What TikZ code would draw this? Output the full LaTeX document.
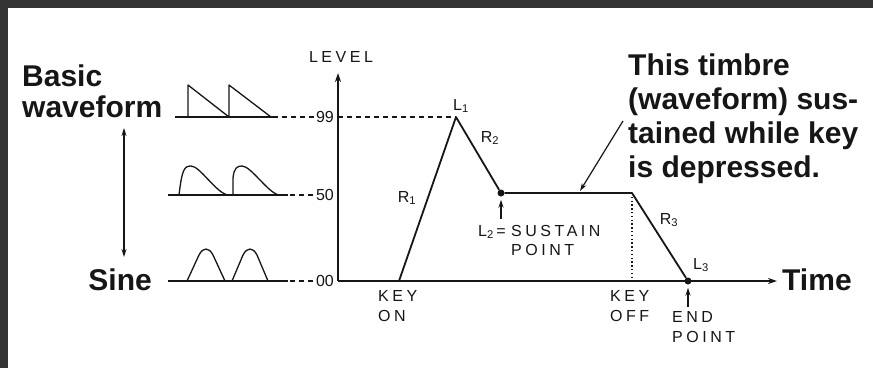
\documentclass[tikz,border=0pt]{standalone}
\usepackage{fontspec}
\setmainfont{Liberation Sans}
\newfontfamily\letterfont[LetterSpace=22]{Liberation Sans}
\usetikzlibrary{arrows.meta}
\definecolor{EGFrame}{HTML}{333333}
\definecolor{EGInk}{HTML}{161616}
\tikzset{
  axis/.style={EGInk,line width=2pt},
  axisarrow/.style={axis,-{Stealth[length=9pt,width=6pt]}},
  env/.style={EGInk,line width=1.8pt,line join=round},
  wave/.style={EGInk,line width=1.3pt,line join=round},
  guide/.style={EGInk,line width=1.2pt,dash pattern=on 5pt off 4pt},
  keyline/.style={EGInk,line width=1.3pt,dash pattern=on 1.3pt off 2.5pt},
  pointer/.style={EGInk,line width=1.2pt,-{Stealth[length=8pt,width=5pt]}},
  bothways/.style={pointer,{Stealth[length=8pt,width=5pt]}-{Stealth[length=8pt,width=5pt]}},
  bigtext/.style={text=EGInk,font=\fontsize{30}{34}\selectfont\bfseries,inner sep=0pt,align=left},
  lettering/.style={text=EGInk,font=\fontsize{16}{20}\selectfont\letterfont,inner sep=0pt,align=left},
  tick/.style={text=EGInk,font=\fontsize{16}{18}\selectfont,inner sep=0pt},
  dot/.style={circle,fill=EGInk,inner sep=0pt,minimum size=7pt},
}
\begin{document}
\begin{tikzpicture}[x=1pt,y=-1pt]
  \useasboundingbox (0,0) rectangle (873,368);
  \fill[EGFrame] (0,0) rectangle (873,368);
  \fill[white] (8,8) rectangle (873,368);

  % axes and envelope points
  \coordinate (origin) at (338,281);
  \coordinate (ytop) at (338,73);
  \coordinate (keyon) at (399,281);
  \coordinate (lone) at (456,117);
  \node[dot] (ltwo) at (501,193) {};
  \coordinate (keyoff) at (632,193);
  \node[dot] (lthree) at (688,281) {};

  \node[lettering,anchor=center] (levellbl) at (341,57) {LEVEL};
  \node[bigtext,anchor=base west] (timelbl) at (782,290) {Time};
  \draw[axisarrow] (origin) -- (ytop);
  \draw[axisarrow] (origin) -- ([xshift=-5pt]origin -| timelbl.west);

  \node[tick,anchor=east] (lvlnn) at (334,117) {99};
  \node[tick,anchor=east] (lvlfifty) at (334,195) {50};
  \node[tick,anchor=east] (lvlzero) at (334,281) {00};
  \draw[guide] (origin |- lone) -- (lone);

  \draw[env] (keyon) -- (lone) -- (ltwo) -- (keyoff) -- (lthree);
  \draw[keyline] (keyoff) -- (keyoff |- origin);

  \node[lettering] (lonelbl) at (461,106) {L\textsubscript{1}};
  \node[lettering] (rtwolbl) at (490,138) {R\textsubscript{2}};
  \node[lettering] (ronelbl) at (407,198) {R\textsubscript{1}};
  \node[lettering] (rthreelbl) at (669,220) {R\textsubscript{3}};
  \node[lettering] (lthreelbl) at (701,265) {L\textsubscript{3}};

  \node[lettering,anchor=north west] (keyonlbl) at (378,290) {KEY\\ON};
  \node[lettering,anchor=north west] (keyofflbl) at (610,290) {KEY\\OFF};
  \node[lettering,anchor=north west] (endlbl) at (672,311) {END\\POINT};
  \node[lettering,anchor=north west,font=\fontsize{16}{19}\selectfont\letterfont] (sustlbl) at (511,225) {SUSTAIN\\POINT};
  \node[lettering,anchor=north east] (ltwolbl) at ([xshift=-5pt]sustlbl.north west) {L\textsubscript{2}\,=};

  \coordinate (ltwotail) at (501,219);
  \coordinate (lthreetail) at (688,307);
  \draw[pointer,shorten >=3pt] (ltwotail) -- (ltwo);
  \draw[pointer,shorten >=3pt] (lthreetail) -- (lthree);

  \node[bigtext,anchor=north west] (notelbl) at (628,54)
    {This timbre\\(waveform) sus-\\tained while key\\is depressed.};
  \coordinate (notetail) at (623,121);
  \coordinate (notehead) at (580,191);
  \draw[pointer] (notetail) -- (notehead);

  % waveform column
  \node[bigtext,anchor=base west] (basiclbl) at (22,86) {Basic};
  \node[bigtext,anchor=base west] (wavelbl) at (22,117) {waveform};
  \node[bigtext,anchor=base east] (sinelbl) at (152,290) {Sine};
  \coordinate (brightest) at (124,128);
  \coordinate (sinest) at (124,257);
  \draw[bothways] (brightest) -- (sinest);

  % sawtooth
  \draw[wave] (175,117) -- (273,117);
  \draw[wave] (188,117) -- (188,85) -- (229,117) -- (229,85) -- (271,117);
  \draw[guide] (273,117) -- (lvlnn.west);
  % rounded pulses
  \draw[wave] (168,195) -- (288,195);
  \draw[wave] (179,195) .. controls (182,170) and (184,166) .. (191,166)
    .. controls (200,166) and (216,193) .. (228,195);
  \draw[wave] (233,195) -- (233,178) .. controls (234,168) and (237,166) .. (242,166)
    .. controls (251,166) and (268,193) .. (279,195);
  \draw[guide] (290,195) -- (lvlfifty.west);
  % sine
  \draw[wave] (168,281) -- (288,281);
  \draw[wave] (187,281) -- (199,255) .. controls (203,247) and (209,247) .. (213,255) -- (225,281);
  \draw[wave] (232,281) -- (243,255) .. controls (247,247) and (253,247) .. (257,255) -- (268,281);
  \draw[guide] (290,281) -- (lvlzero.west);
\end{tikzpicture}
\end{document}
